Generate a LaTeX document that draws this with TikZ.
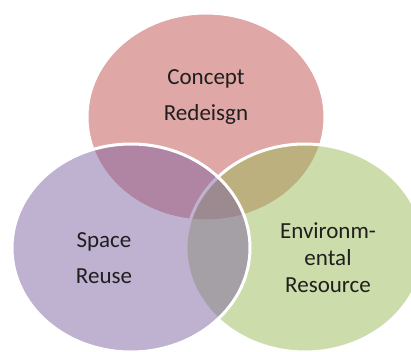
\documentclass[tikz,border=0pt]{standalone}
\usepackage{fontspec}
\setmainfont{Carlito}
\usepackage{xcolor}
\usetikzlibrary{shapes.geometric, positioning}

\definecolor{redacc}{HTML}{C0504D}
\definecolor{purpleacc}{HTML}{8064A2}
\definecolor{greenacc}{HTML}{9BBB59}

\begin{document}
\begin{tikzpicture}[
    x=1pt, y=-1pt,
    blob/.style={ellipse, draw=white, line width=3pt, fill opacity=0.5,
                 draw opacity=1, minimum width=238pt, minimum height=208pt,
                 inner sep=0pt},
    label2/.style={align=center, text=black!88, font=\fontsize{23}{36}\selectfont},
    label3/.style={align=center, text=black!88, font=\fontsize{23}{27}\selectfont},
]
\clip (0,0) rectangle (411,352);
\fill[white] (0,0) rectangle (411,352);

\node[blob, fill=redacc]    (concept) at (206,117) {};
\node[blob, fill=greenacc]  (env)     at (305,248) {};
\node[blob, fill=purpleacc] (space)   at (131,248) {};

\node[label2] (conceptlbl) at (206,97)  {Concept\\Redeisgn};
\node[label2] (spacelbl)   at (104,258) {Space\\Reuse};
\node[label3] (envlbl)     at (328,258) {Environm-\\ental\\Resource};
\end{tikzpicture}
\end{document}
